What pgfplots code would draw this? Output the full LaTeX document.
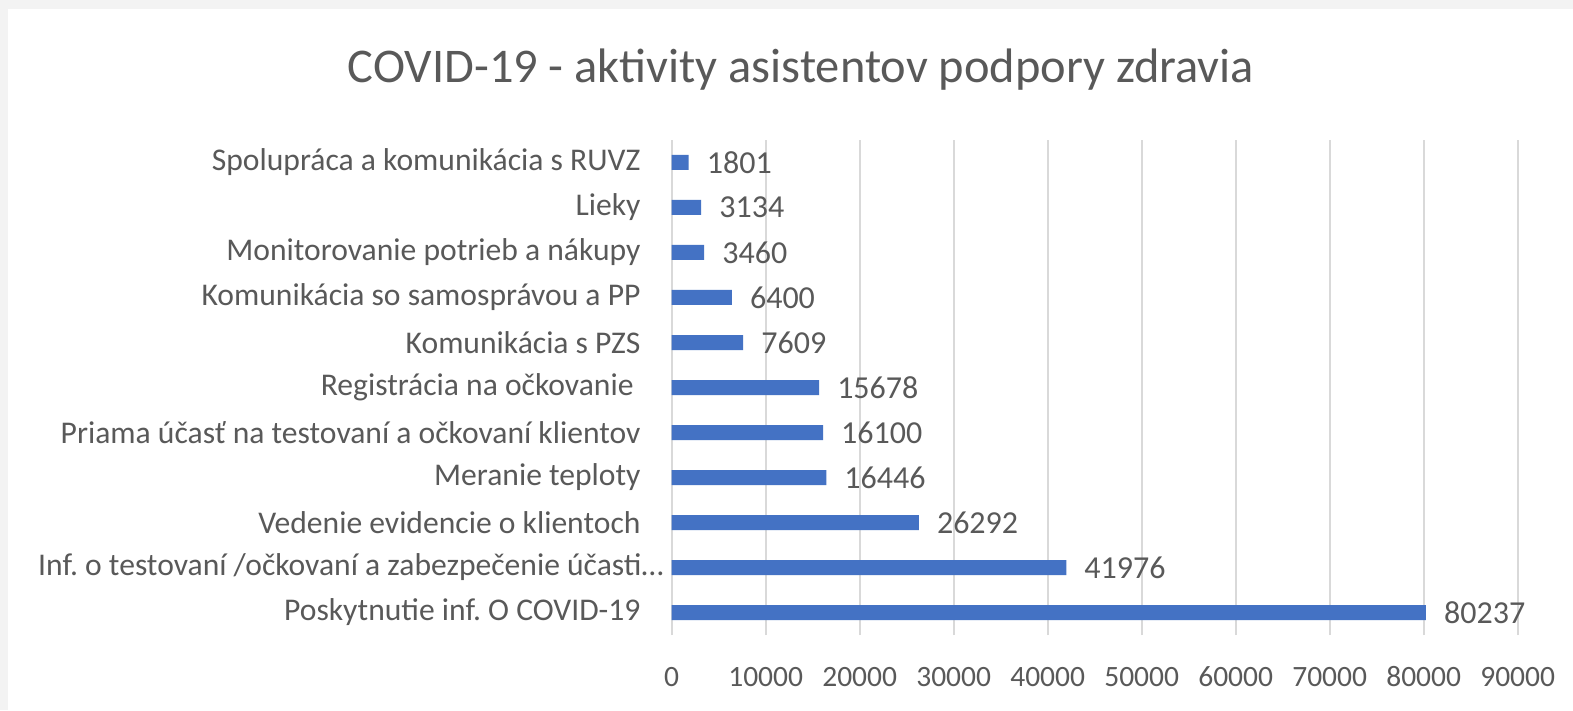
\documentclass[border=0pt]{standalone}
\usepackage{pgfplots}
\pgfplotsset{compat=1.18}
\usepackage{fontspec}
\setmainfont{Carlito}
\frenchspacing
\definecolor{txt}{HTML}{595959}
\definecolor{barc}{HTML}{4472C4}
\definecolor{gridc}{HTML}{D9D9D9}
\definecolor{bgc}{HTML}{F3F3F3}
\begin{document}
\begin{tikzpicture}[x=1pt,y=1pt]
\useasboundingbox (0,0) rectangle (1573,710);
\fill[bgc] (0,0) rectangle (1573,710);
\fill[white] (8,0) rectangle (1573,701);
\node[text=txt, font=\fontsize{48.4}{58}\selectfont, anchor=base, inner sep=0pt] at (801,627) {COVID-19 - aktivity asistentov podpory zdravia};
\begin{axis}[
  at={(671.7pt,75pt)}, anchor=south west,
  scale only axis, width=846pt, height=495pt,
  xmin=0, xmax=90000, ymin=-0.5, ymax=10.5,
  xbar, bar width=15pt,
  axis line style={draw=none},
  major tick length=0pt,
  xmajorgrids, grid style={gridc, line width=1.6pt},
  xtick={0,10000,...,90000},
  scaled x ticks=false,
  /pgf/number format/1000 sep={},
  /pgf/number format/assume math mode=true,
  ytick={0,...,10},
  yticklabels={
    Poskytnutie inf.\ O COVID-19,
    Inf.\ o testovaní /očkovaní a zabezpečenie účasti…\kern-23pt,
    Vedenie evidencie o klientoch,
    Meranie teploty,
    Priama účasť na testovaní a očkovaní klientov,
    Registrácia na očkovanie\kern7pt,
    Komunikácia s PZS,
    Komunikácia so samosprávou a PP,
    Monitorovanie potrieb a nákupy,
    Lieky,
    Spolupráca a komunikácia s RUVZ},
  yticklabel style={anchor=east, inner sep=0pt, xshift=-31pt, text=txt, font=\fontsize{31.6}{38}\selectfont},
  xticklabel style={anchor=base, inner sep=0pt, yshift=-51pt, text=txt, font=\fontsize{29.5}{35}\selectfont},
  nodes near coords,
  nodes near coords style={anchor=west, inner sep=0pt, xshift=18pt, text=txt, font=\fontsize{32}{38}\selectfont},
  clip=false,
]
\addplot[fill=barc, draw=none] coordinates {
  (80237,0) (41976,1) (26292,2) (16446,3) (16100,4) (15678,5)
  (7609,6) (6400,7) (3460,8) (3134,9) (1801,10)
};
\end{axis}
\end{tikzpicture}
\end{document}
